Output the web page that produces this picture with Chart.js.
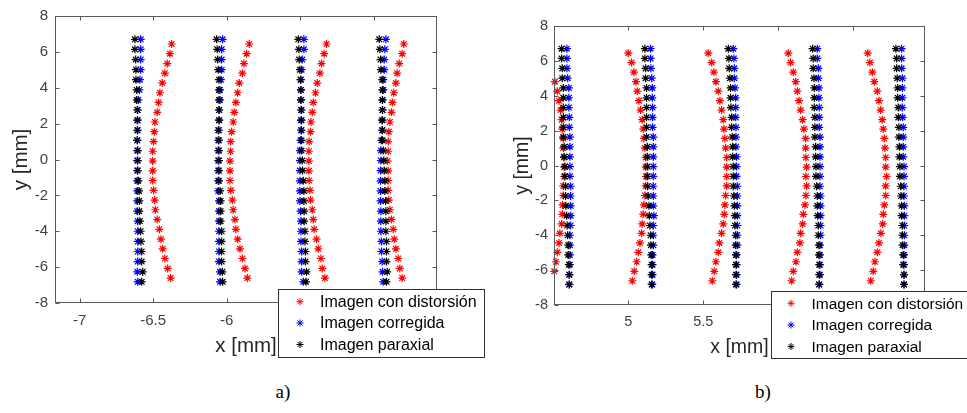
<!DOCTYPE html>
<html>
<head>
<meta charset="utf-8">
<script src="https://cdn.jsdelivr.net/npm/chart.js@4.4.1/dist/chart.umd.min.js"></script>
<style>
  html, body { margin: 0; padding: 0; background: #fff; }
  body { width: 967px; height: 413px; position: relative; overflow: hidden; }
  canvas { position: absolute; top: 0; }
  #plotA { left: 0; }
  #plotB { left: 490px; }
  .cap { position: absolute; transform: translate(-50%, -50%); font-family: 'Liberation Serif', 'Times New Roman', serif; font-size: 19px; color: #000; }
</style>
</head>
<body>
<canvas id="plotA" width="490" height="370"></canvas>
<canvas id="plotB" width="477" height="370"></canvas>
<div class="cap" style="left:283px; top:392px;">a)</div>
<div class="cap" style="left:763px; top:392px;">b)</div>
<script>
// Series names and y positions of the sampled rows (mm)
const seriesNames = ['Imagen con distorsión', 'Imagen corregida', 'Imagen paraxial'];
const rowY = [6.70, 6.14, 5.57, 5.01, 4.45, 3.88, 3.32, 2.76, 2.19, 1.63, 1.07, 0.50, -0.06, -0.62, -1.19, -1.75, -2.31, -2.88, -3.44, -4.00, -4.57, -5.13, -5.69, -6.26, -6.82];
const rowYDist = [6.44, 5.90, 5.35, 4.81, 4.26, 3.72, 3.18, 2.63, 2.09, 1.55, 1.00, 0.46, -0.09, -0.63, -1.17, -1.72, -2.26, -2.80, -3.35, -3.89, -4.44, -4.98, -5.52, -6.07, -6.61];

// Tick labels
const yTicks = [-8, -6, -4, -2, 0, 2, 4, 6, 8];
const xTicksA = [-7, -6.5, -6, -5.5, -5];
const xTicksB = [5, 5.5, 6, 6.5];

// a) x positions (mm), one array per column of points
const aDist1 = [-6.374, -6.386, -6.404, -6.420, -6.438, -6.454, -6.463, -6.472, -6.488, -6.492, -6.497, -6.503, -6.503, -6.503, -6.503, -6.497, -6.490, -6.485, -6.472, -6.458, -6.447, -6.435, -6.420, -6.401, -6.381];
const aDist2 = [-5.846, -5.864, -5.882, -5.893, -5.914, -5.925, -5.937, -5.948, -5.955, -5.966, -5.973, -5.973, -5.977, -5.977, -5.977, -5.971, -5.961, -5.955, -5.943, -5.937, -5.925, -5.909, -5.893, -5.875, -5.859];
const aDist3 = [-5.320, -5.336, -5.354, -5.365, -5.383, -5.395, -5.410, -5.417, -5.426, -5.429, -5.438, -5.440, -5.440, -5.440, -5.438, -5.433, -5.429, -5.417, -5.410, -5.404, -5.388, -5.376, -5.358, -5.349, -5.331];
const aDist4 = [-4.794, -4.805, -4.825, -4.839, -4.848, -4.862, -4.871, -4.878, -4.889, -4.896, -4.900, -4.900, -4.905, -4.900, -4.900, -4.900, -4.896, -4.889, -4.878, -4.866, -4.859, -4.848, -4.832, -4.821, -4.805];

const aCorr1 = [-6.585, -6.585, -6.585, -6.585, -6.590, -6.594, -6.601, -6.605, -6.605, -6.605, -6.608, -6.608, -6.608, -6.608, -6.608, -6.608, -6.608, -6.608, -6.605, -6.605, -6.605, -6.605, -6.605, -6.608, -6.605];
const aCorr2 = [-6.027, -6.034, -6.034, -6.034, -6.039, -6.045, -6.045, -6.050, -6.050, -6.052, -6.057, -6.057, -6.057, -6.057, -6.057, -6.057, -6.052, -6.052, -6.052, -6.052, -6.052, -6.052, -6.052, -6.045, -6.045];
const aCorr3 = [-5.474, -5.474, -5.485, -5.490, -5.494, -5.494, -5.494, -5.494, -5.494, -5.494, -5.497, -5.501, -5.501, -5.501, -5.501, -5.501, -5.501, -5.497, -5.494, -5.494, -5.494, -5.490, -5.490, -5.490, -5.478];
const aCorr4 = [-4.916, -4.923, -4.927, -4.927, -4.934, -4.934, -4.939, -4.939, -4.943, -4.943, -4.946, -4.950, -4.950, -4.952, -4.952, -4.952, -4.952, -4.950, -4.950, -4.950, -4.946, -4.946, -4.941, -4.939, -4.934];

const aPar1 = [-6.624, -6.624, -6.619, -6.617, -6.617, -6.612, -6.612, -6.608, -6.608, -6.608, -6.608, -6.605, -6.605, -6.605, -6.601, -6.596, -6.594, -6.594, -6.590, -6.585, -6.583, -6.578, -6.578, -6.571, -6.578];
const aPar2 = [-6.068, -6.064, -6.061, -6.057, -6.052, -6.052, -6.052, -6.052, -6.052, -6.057, -6.052, -6.052, -6.052, -6.052, -6.052, -6.045, -6.041, -6.041, -6.041, -6.034, -6.034, -6.034, -6.034, -6.029, -6.027];
const aPar3 = [-5.512, -5.508, -5.506, -5.501, -5.497, -5.494, -5.494, -5.490, -5.490, -5.490, -5.490, -5.490, -5.485, -5.483, -5.478, -5.474, -5.474, -5.472, -5.472, -5.467, -5.467, -5.463, -5.463, -5.456, -5.460];
const aPar4 = [-4.961, -4.957, -4.952, -4.950, -4.941, -4.939, -4.939, -4.939, -4.939, -4.939, -4.939, -4.934, -4.930, -4.927, -4.923, -4.923, -4.918, -4.916, -4.916, -4.916, -4.912, -4.912, -4.912, -4.907, -4.912];

// b) x positions (mm); null = point falls outside the visible x range
const bDist1 = [null, null, null, 4.511, 4.527, 4.538, 4.549, 4.556, 4.560, 4.567, 4.567, 4.571, 4.573, 4.573, 4.567, 4.567, 4.562, 4.560, 4.556, 4.544, 4.538, 4.527, 4.518, 4.507, null];
const bDist2 = [5.000, 5.022, 5.038, 5.051, 5.060, 5.071, 5.082, 5.093, 5.100, 5.104, 5.111, 5.116, 5.116, 5.118, 5.116, 5.111, 5.104, 5.100, 5.093, 5.089, 5.078, 5.067, 5.056, 5.040, 5.027];
const bDist3 = [5.533, 5.556, 5.571, 5.584, 5.600, 5.611, 5.622, 5.633, 5.638, 5.644, 5.649, 5.656, 5.656, 5.656, 5.656, 5.649, 5.644, 5.640, 5.633, 5.622, 5.607, 5.600, 5.584, 5.573, 5.560];
const bDist4 = [6.067, 6.082, 6.100, 6.116, 6.127, 6.138, 6.149, 6.162, 6.171, 6.182, 6.182, 6.184, 6.189, 6.184, 6.189, 6.184, 6.178, 6.167, 6.162, 6.149, 6.144, 6.127, 6.118, 6.100, 6.089];
const bDist5 = [6.596, 6.611, 6.627, 6.640, 6.660, 6.671, 6.682, 6.693, 6.700, 6.707, 6.711, 6.716, 6.716, 6.722, 6.716, 6.716, 6.707, 6.700, 6.696, 6.684, 6.671, 6.660, 6.644, 6.633, 6.616];

const bCorr1 = [4.591, 4.591, 4.591, 4.596, 4.604, 4.604, 4.604, 4.607, 4.607, 4.611, 4.611, 4.611, 4.611, 4.611, 4.616, 4.616, 4.616, 4.616, 4.616, 4.611, 4.611, 4.611, 4.611, 4.607, 4.607];
const bCorr2 = [5.149, 5.149, 5.151, 5.156, 5.160, 5.160, 5.162, 5.162, 5.162, 5.167, 5.167, 5.167, 5.167, 5.167, 5.167, 5.167, 5.167, 5.171, 5.167, 5.167, 5.167, 5.162, 5.162, 5.162, 5.160];
const bCorr3 = [5.700, 5.704, 5.707, 5.707, 5.711, 5.716, 5.716, 5.716, 5.718, 5.718, 5.718, 5.722, 5.722, 5.722, 5.727, 5.727, 5.727, 5.727, 5.727, 5.727, 5.727, 5.722, 5.722, 5.722, 5.722];
const bCorr4 = [6.260, 6.260, 6.267, 6.267, 6.271, 6.271, 6.273, 6.273, 6.273, 6.278, 6.278, 6.278, 6.278, 6.278, 6.278, 6.282, 6.282, 6.282, 6.282, 6.282, 6.278, 6.278, 6.278, 6.278, 6.273];
const bCorr5 = [6.822, 6.822, 6.822, 6.827, 6.827, 6.827, 6.827, 6.829, 6.833, 6.833, 6.833, 6.833, 6.838, 6.838, 6.838, 6.838, 6.840, 6.840, 6.840, 6.840, 6.840, 6.838, 6.838, 6.838, 6.838];

const bPar1 = [4.556, 4.556, 4.560, 4.560, 4.567, 4.567, 4.567, 4.567, 4.567, 4.567, 4.573, 4.573, 4.578, 4.578, 4.582, 4.582, 4.584, 4.589, 4.593, 4.596, 4.600, 4.600, 4.604, 4.607, 4.607];
const bPar2 = [5.111, 5.111, 5.116, 5.116, 5.122, 5.122, 5.122, 5.122, 5.122, 5.122, 5.127, 5.127, 5.127, 5.127, 5.129, 5.133, 5.138, 5.140, 5.144, 5.149, 5.151, 5.153, 5.156, 5.156, 5.156];
const bPar3 = [5.667, 5.671, 5.673, 5.678, 5.682, 5.682, 5.684, 5.689, 5.689, 5.693, 5.696, 5.696, 5.700, 5.700, 5.700, 5.704, 5.707, 5.711, 5.711, 5.716, 5.716, 5.718, 5.718, 5.718, 5.718];
const bPar4 = [6.229, 6.233, 6.233, 6.238, 6.240, 6.240, 6.240, 6.244, 6.244, 6.244, 6.249, 6.249, 6.251, 6.251, 6.256, 6.260, 6.260, 6.262, 6.267, 6.267, 6.271, 6.271, 6.273, 6.273, 6.273];
const bPar5 = [6.784, 6.789, 6.789, 6.793, 6.796, 6.796, 6.800, 6.800, 6.804, 6.804, 6.807, 6.807, 6.811, 6.811, 6.816, 6.818, 6.822, 6.822, 6.827, 6.827, 6.829, 6.833, 6.833, 6.838, 6.838];

const FONT = "'Liberation Sans', Arial, Helvetica, sans-serif";
const AXIS_COLOR = '#5a5a5a';
const TICK_COLOR = '#404040';
const TITLE_COLOR = '#262626';
const SERIES_COLORS = ['#ff0000', '#0000ff', '#000000'];

// Pair each column of x values with its row heights
function toPoints(columns, ys) {
  const out = [];
  columns.forEach(col => col.forEach((x, i) => { if (x !== null) out.push({ x: x, y: ys[i] }); }));
  return out;
}

// Axes box with short inward tick marks on all four sides
const frame = {
  id: 'frame',
  afterDatasetsDraw(chart) {
    const { ctx, chartArea: a, scales } = chart;
    const L = Math.round(a.left) + 0.5, R = Math.round(a.right) - 0.5;
    const T = Math.round(a.top) + 0.5, B = Math.round(a.bottom) - 0.5;
    ctx.save();
    ctx.strokeStyle = AXIS_COLOR;
    ctx.lineWidth = 1;
    ctx.strokeRect(L, T, R - L, B - T);
    ctx.beginPath();
    scales.x.ticks.forEach(t => {
      const px = Math.round(scales.x.getPixelForValue(t.value)) + 0.5;
      ctx.moveTo(px, B); ctx.lineTo(px, B - 4);
      ctx.moveTo(px, T); ctx.lineTo(px, T + 4);
    });
    scales.y.ticks.forEach(t => {
      const py = Math.round(scales.y.getPixelForValue(t.value)) + 0.5;
      ctx.moveTo(L, py); ctx.lineTo(L + 4, py);
      ctx.moveTo(R, py); ctx.lineTo(R - 4, py);
    });
    ctx.stroke();
    ctx.restore();
  }
};

// Boxed legend placed over the lower right corner of the axes
const boxLegend = {
  id: 'boxLegend',
  afterDraw(chart, args, o) {
    const ctx = chart.ctx;
    ctx.save();
    ctx.fillStyle = '#ffffff';
    ctx.fillRect(o.x, o.y, o.w, o.h);
    ctx.strokeStyle = '#303030';
    ctx.lineWidth = 1;
    ctx.strokeRect(o.x + 0.5, o.y + 0.5, o.w, o.h);
    ctx.font = o.fontSize + 'px ' + FONT;
    ctx.textBaseline = 'middle';
    ctx.textAlign = 'left';
    chart.data.datasets.forEach((ds, i) => {
      const cy = o.rows[i];
      ctx.strokeStyle = ds.borderColor;
      ctx.fillStyle = ds.borderColor;
      Chart.helpers.drawPoint(ctx, { pointStyle: 'star', radius: 3.5, borderWidth: 1, rotation: 0 }, o.markX, cy);
      ctx.fillStyle = '#000000';
      ctx.fillText(ds.label, o.textX, cy + 1);
    });
    ctx.restore();
  }
};

function makeDatasets(dist, corr, par) {
  const groups = [toPoints(dist, rowYDist), toPoints(corr, rowY), toPoints(par, rowY)];
  return groups.map((data, i) => ({
    label: seriesNames[i],
    data: data,
    showLine: false,
    order: 3 - i,
    clip: 6,
    borderColor: SERIES_COLORS[i],
    backgroundColor: SERIES_COLORS[i],
    pointStyle: 'star',
    pointRadius: 4,
    pointHoverRadius: 4,
    pointBorderWidth: 1.2
  }));
}

function makeChart(id, o) {
  return new Chart(document.getElementById(id), {
    type: 'scatter',
    data: { datasets: o.datasets },
    plugins: [frame, boxLegend],
    options: {
      responsive: false,
      animation: false,
      events: [],
      layout: { padding: o.padding },
      plugins: {
        legend: { display: false },
        tooltip: { enabled: false },
        boxLegend: o.legend
      },
      scales: {
        x: {
          type: 'linear',
          min: o.xMin,
          max: o.xMax,
          afterBuildTicks: s => { s.ticks = o.xTicks.map(v => ({ value: v })); },
          afterFit: s => { s.height = o.xAxisH; },
          grid: { display: false, drawTicks: false },
          border: { display: false },
          ticks: {
            autoSkip: false, maxRotation: 0, padding: o.xTickPad,
            color: TICK_COLOR, font: { family: FONT, size: o.tickSize },
            callback: v => String(v)
          },
          title: {
            display: true, text: 'x [mm]', color: TITLE_COLOR,
            font: { family: FONT, size: o.titleSize },
            padding: { top: 0, bottom: 11 }
          }
        },
        y: {
          type: 'linear',
          min: -8,
          max: 8,
          afterBuildTicks: s => { s.ticks = yTicks.map(v => ({ value: v })); },
          afterFit: s => { s.width = o.yAxisW; },
          grid: { display: false, drawTicks: false },
          border: { display: false },
          ticks: {
            autoSkip: false, padding: o.yTickPad,
            color: TICK_COLOR, font: { family: FONT, size: o.tickSize },
            callback: v => String(v)
          },
          title: {
            display: true, text: 'y [mm]', color: TITLE_COLOR,
            font: { family: FONT, size: o.titleSize },
            padding: { top: o.yTitlePad, bottom: 0 }
          }
        }
      }
    }
  });
}

makeChart('plotA', {
  datasets: makeDatasets([aDist1, aDist2, aDist3, aDist4], [aCorr1, aCorr2, aCorr3, aCorr4], [aPar1, aPar2, aPar3, aPar4]),
  padding: { left: 0, top: 14, right: 53, bottom: 0 },
  xMin: -7.168, xMax: -4.568, xTicks: xTicksA,
  xAxisH: 67, yAxisW: 55, xTickPad: 9, yTickPad: 7, yTitlePad: 9.5,
  tickSize: 15, titleSize: 20.5,
  legend: { x: 278, y: 289, w: 206, h: 68, rows: [301.7, 323, 344.5], markX: 300, textX: 320, fontSize: 16 }
});

makeChart('plotB', {
  datasets: makeDatasets([bDist1, bDist2, bDist3, bDist4, bDist5], [bCorr1, bCorr2, bCorr3, bCorr4, bCorr5], [bPar1, bPar2, bPar3, bPar4, bPar5]),
  padding: { left: 0, top: 26, right: 42, bottom: 0 },
  xMin: 4.505, xMax: 6.978, xTicks: xTicksB,
  xAxisH: 65, yAxisW: 64, xTickPad: 8, yTickPad: 6, yTitlePad: 21,
  tickSize: 14.5, titleSize: 19.5,
  legend: { x: 281, y: 291, w: 220, h: 67, rows: [303.3, 325, 346.5], markX: 301, textX: 321.5, fontSize: 15.5 }
});
</script>
</body>
</html>
